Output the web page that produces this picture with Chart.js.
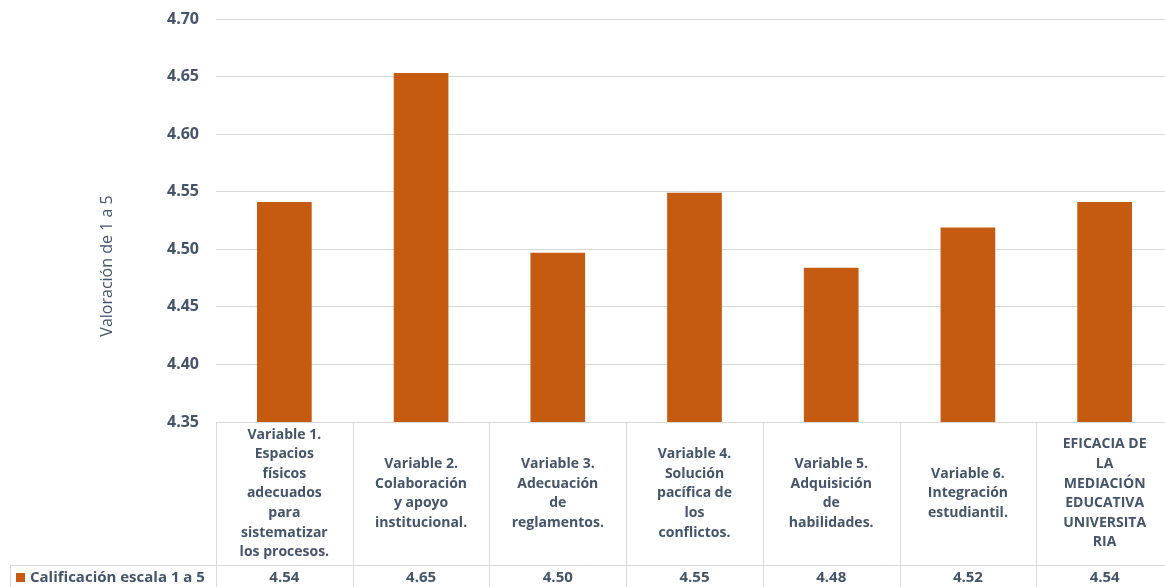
<!DOCTYPE html>
<html>
<head>
<meta charset="utf-8">
<script src="https://cdn.jsdelivr.net/npm/chart.js@4/dist/chart.umd.min.js"></script>
<style>
  html, body { margin: 0; padding: 0; background: #fff; overflow: hidden; }
  #wrap { width: 1175px; height: 587px; }
</style>
</head>
<body>
<div id="wrap"><canvas id="chart" width="1175" height="587"></canvas></div>
<script>
// data
var categories = [
  ["Variable 1.", "Espacios", "físicos", "adecuados", "para", "sistematizar", "los procesos."],
  ["Variable 2.", "Colaboración", "y apoyo", "institucional."],
  ["Variable 3.", "Adecuación", "de", "reglamentos."],
  ["Variable 4.", "Solución", "pacífica de", "los", "conflictos."],
  ["Variable 5.", "Adquisición", "de", "habilidades."],
  ["Variable 6.", "Integración", "estudiantil."],
  ["EFICACIA DE", "LA", "MEDIACIÓN", "EDUCATIVA", "UNIVERSITA", "RIA"]
];
var values = [4.541, 4.653, 4.497, 4.549, 4.484, 4.519, 4.541];
var tableValues = ["4.54", "4.65", "4.50", "4.55", "4.48", "4.52", "4.54"];
var seriesName = "Calificación escala 1 a 5";
var yTitle = "Valoración de 1 a 5";
var yMin = 4.35, yMax = 4.70, yStep = 0.05;

var textColor = '#44546A';
var gridColor = '#D9D9D9';
var barColor = '#C55A11';
var fontFam = '"Open Sans", sans-serif';

// draws the data table under the plot and the rotated axis title
var dataTable = {
  id: 'dataTable',
  afterDraw: function(chart) {
    var ctx = chart.ctx;
    var area = chart.chartArea;
    var x = chart.scales.x;
    var n = categories.length;
    var colW = (area.right - area.left) / n;
    var top = area.bottom;
    var rowY = 565;
    var bottom = chart.height;

    ctx.save();
    ctx.strokeStyle = gridColor;
    ctx.lineWidth = 1;
    ctx.beginPath();
    for (var i = 0; i <= n; i++) {
      var lx = Math.round(area.left + i * colW) + 0.5;
      ctx.moveTo(lx, top);
      ctx.lineTo(lx, bottom);
    }
    ctx.moveTo(10, rowY + 0.5);
    ctx.lineTo(area.right, rowY + 0.5);
    ctx.moveTo(10.5, rowY);
    ctx.lineTo(10.5, bottom);
    ctx.stroke();

    // category labels
    ctx.fillStyle = textColor;
    ctx.font = 'bold 14px ' + fontFam;
    ctx.textAlign = 'center';
    ctx.textBaseline = 'middle';
    var lh = 19.6;
    for (var c = 0; c < n; c++) {
      var cx = x.getPixelForValue(c);
      var lines = categories[c];
      var y0 = (top + rowY) / 2 - (lines.length - 1) * lh / 2;
      for (var k = 0; k < lines.length; k++) {
        ctx.fillText(lines[k], cx, y0 + k * lh);
      }
    }

    // values row
    ctx.font = 'bold 15px ' + fontFam;
    for (var v = 0; v < n; v++) {
      ctx.fillText(tableValues[v], x.getPixelForValue(v), 578);
    }

    // legend key
    ctx.fillStyle = barColor;
    ctx.fillRect(16, 573, 9, 9);
    ctx.fillStyle = textColor;
    ctx.textAlign = 'left';
    ctx.fillText(seriesName, 30, 578);

    // y axis title
    ctx.translate(107, 266);
    ctx.rotate(-Math.PI / 2);
    ctx.textAlign = 'center';
    ctx.font = '16px ' + fontFam;
    ctx.fillText(yTitle, 0, 0);
    ctx.restore();
  }
};

var ctx = document.getElementById('chart').getContext('2d');
var chart = new Chart(ctx, {
  type: 'bar',
  data: {
    labels: categories,
    datasets: [{
      label: seriesName,
      data: values,
      backgroundColor: barColor,
      borderWidth: 0,
      barPercentage: 0.4,
      categoryPercentage: 1
    }]
  },
  options: {
    responsive: false,
    animation: false,
    layout: { padding: { top: 19, right: 2, bottom: 165, left: 0 } },
    plugins: {
      legend: { display: false },
      tooltip: { enabled: false }
    },
    scales: {
      x: { display: false },
      y: {
        min: yMin,
        max: yMax,
        afterFit: function(scale) {
          scale.width = 216;
          scale.paddingTop = 0;
          scale.paddingBottom = 0;
        },
        border: { display: false },
        grid: { color: gridColor, drawTicks: false },
        ticks: {
          stepSize: yStep,
          padding: 17,
          color: textColor,
          font: { family: fontFam, size: 16, weight: 'bold' },
          callback: function(v) { return Number(v).toFixed(2); }
        }
      }
    }
  },
  plugins: [dataTable]
});
</script>
</body>
</html>
